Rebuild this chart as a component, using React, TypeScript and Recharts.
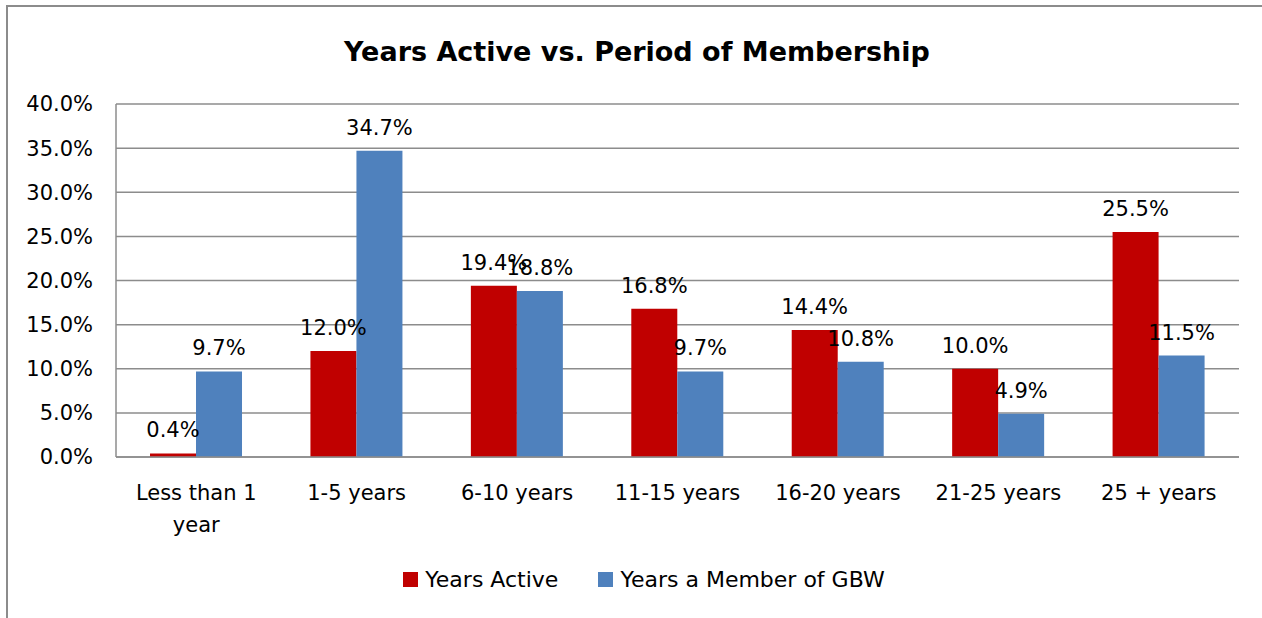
import React from "react";
import { BarChart, Bar, XAxis, YAxis, CartesianGrid, Legend, LabelList } from "recharts";

const categories = ["Less than 1 year", "1-5 years", "6-10 years", "11-15 years", "16-20 years", "21-25 years", "25 + years"];
const yearsActive = [0.4, 12.0, 19.4, 16.8, 14.4, 10.0, 25.5];
const yearsMember = [9.7, 34.7, 18.8, 9.7, 10.8, 4.9, 11.5];
const yTicks = [0, 5, 10, 15, 20, 25, 30, 35, 40];
const seriesNames = ["Years Active", "Years a Member of GBW"];
const seriesColors = ["#C00000", "#4F81BD"];
const title = "Years Active vs. Period of Membership";

const data = categories.map((c, i) => ({ name: c, active: yearsActive[i], member: yearsMember[i] }));

const FONT = "'DejaVu Sans', sans-serif";

function wrapLabel(s: string, maxChars: number): string[] {
  const words = s.split(" ");
  const lines: string[] = [];
  let cur = "";
  for (const w of words) {
    const next = cur ? cur + " " + w : w;
    if (next.length > maxChars && cur) {
      lines.push(cur);
      cur = w;
    } else {
      cur = next;
    }
  }
  if (cur) lines.push(cur);
  return lines;
}

const XTick = (props: any) => {
  const { x, y, payload } = props;
  const lines = wrapLabel(String(payload.value), 12);
  return (
    <text x={x} y={y} textAnchor="middle" style={{ fontFamily: FONT, fontSize: 21, fill: "#000" }}>
      {lines.map((l, i) => (
        <tspan key={i} x={x} dy={i === 0 ? 15 : 32}>{l}</tspan>
      ))}
    </text>
  );
};

const LegendContent = () => (
  <div style={{ display: "flex", justifyContent: "center", alignItems: "center", fontFamily: FONT, fontSize: 22, color: "#000" }}>
    {seriesNames.map((n, i) => (
      <div key={n} style={{ display: "flex", alignItems: "center", marginRight: i === 0 ? 40 : 0 }}>
        <span style={{ display: "inline-block", width: 15, height: 15, background: seriesColors[i], marginRight: 7 }} />
        <span>{n}</span>
      </div>
    ))}
  </div>
);

export default function App() {
  return (
    <div style={{ position: "absolute", left: 0, top: 0, width: 1262, height: 618, background: "#fff", overflow: "hidden" }}>
      <div style={{ position: "absolute", left: 6, top: 5, width: 2000, height: 1000, borderLeft: "2px solid #8c8c8c", borderTop: "2px solid #8c8c8c" }} />
      <div style={{ position: "absolute", left: 0, top: 32, width: 1274, textAlign: "center", fontFamily: FONT, fontWeight: "bold", fontSize: 27, color: "#000", lineHeight: "40px" }}>
        {title}
      </div>
      <div style={{ position: "absolute", left: 0, top: 0 }}>
        <BarChart width={1262} height={618} data={data} margin={{ top: 104, right: 23, left: 0, bottom: 0 }}
          barCategoryGap="21.2%" barGap={0}>
          <CartesianGrid vertical={false} stroke="#8c8c8c" strokeWidth={1.5} />
          <XAxis dataKey="name" height={161} tickSize={0} tickMargin={28} interval={0} tick={<XTick />}
            axisLine={{ stroke: "#8c8c8c", strokeWidth: 1.5 }} tickLine={false} />
          <YAxis width={116} domain={[0, 40]} ticks={yTicks} tickSize={0} tickMargin={23} tickLine={false}
            axisLine={{ stroke: "#8c8c8c", strokeWidth: 1.5 }}
            tickFormatter={(v: number) => v.toFixed(1) + "%"}
            tick={{ fontFamily: FONT, fontSize: 21, fill: "#000" }} />
          <Legend layout="horizontal" verticalAlign="middle" align="center" content={<LegendContent />}
            wrapperStyle={{ top: 567, left: 19, width: 1250 }} />
          <Bar dataKey="active" name={seriesNames[0]} fill={seriesColors[0]} isAnimationActive={false}>
            <LabelList dataKey="active" position="top" offset={16} formatter={(v: number) => v.toFixed(1) + "%"}
              style={{ fontFamily: FONT, fontSize: 21, fill: "#000" }} />
          </Bar>
          <Bar dataKey="member" name={seriesNames[1]} fill={seriesColors[1]} isAnimationActive={false}>
            <LabelList dataKey="member" position="top" offset={16} formatter={(v: number) => v.toFixed(1) + "%"}
              style={{ fontFamily: FONT, fontSize: 21, fill: "#000" }} />
          </Bar>
        </BarChart>
      </div>
    </div>
  );
}
